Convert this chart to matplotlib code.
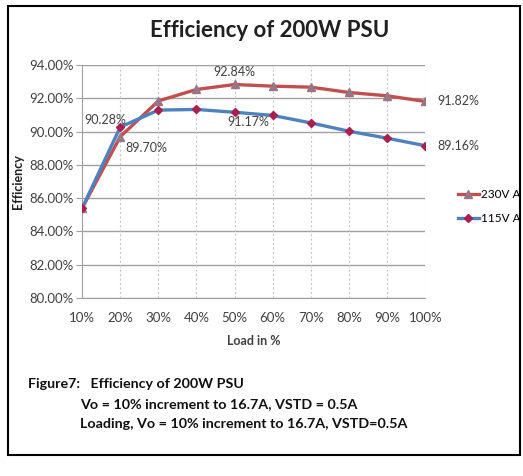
import matplotlib.pyplot as plt
from matplotlib.patches import Rectangle
from matplotlib.lines import Line2D

plt.rcParams['font.family'] = ['Lato', 'DejaVu Sans']

loads = ['10%', '20%', '30%', '40%', '50%', '60%', '70%', '80%', '90%', '100%']
eff_230 = [85.40, 89.70, 91.85, 92.54, 92.84, 92.74, 92.68, 92.36, 92.16, 91.82]
eff_115 = [85.40, 90.28, 91.30, 91.34, 91.17, 90.98, 90.53, 90.03, 89.61, 89.16]
y_ticks = [80, 82, 84, 86, 88, 90, 92, 94]

red = '#C0504D'
blue = '#4F81BD'
tri_col = '#9A7585'
dia_col = '#A8204E'
txt = '#404040'

fig = plt.figure(figsize=(5.23, 4.76), dpi=100)
ax = fig.add_axes([0.157, 0.374, 0.656, 0.489])

x = list(range(len(loads)))
ax.plot(x, eff_230, color=red, lw=2.4, marker='^', ms=6, mfc=tri_col, mec=tri_col, zorder=3)
ax.plot(x, eff_115, color=blue, lw=2.4, marker='D', ms=4.5, mfc=dia_col, mec=dia_col, zorder=3)

ax.set_xlim(0, 9)
ax.set_ylim(80, 94)
ax.set_xticks(x)
ax.set_xticklabels(loads, fontsize=9.5, color=txt)
ax.set_yticks(y_ticks)
ax.set_yticklabels(['%.2f%%' % v for v in y_ticks], fontsize=9.5, color=txt)
ax.grid(axis='y', color='#A0A0A0', lw=1)
for xi in x[1:]:
    ax.axvline(xi, color='#C8C8C8', lw=0.8, ls=(0, (2, 2)), zorder=1)
ax.set_axisbelow(True)
for s in ['top', 'right']:
    ax.spines[s].set_visible(False)
for s in ['left', 'bottom']:
    ax.spines[s].set_color('#A0A0A0')
ax.tick_params(axis='y', length=4, color='#A0A0A0', pad=2)
ax.tick_params(axis='x', length=0, pad=10)

ax.set_xlabel('Load in %', fontsize=9, fontweight='bold', color=txt, labelpad=8)
ax.set_ylabel('Efficiency', fontsize=9, fontweight='bold', color='#202020', labelpad=4)

# data labels
lab = dict(textcoords='offset points', fontsize=9, color=txt)
ax.annotate('%.2f%%' % eff_230[4], (4, eff_230[4]), xytext=(0, 5), ha='center', va='bottom', **lab)
ax.annotate('%.2f%%' % eff_115[4], (4, eff_115[4]), xytext=(10, -3), ha='center', va='top', **lab)
ax.annotate('%.2f%%' % eff_115[1], (1, eff_115[1]), xytext=(-11, 5), ha='center', va='center', **lab)
ax.annotate('%.2f%%' % eff_230[1], (1, eff_230[1]), xytext=(4, -4), ha='left', va='top', **lab)
ax.annotate('%.2f%%' % eff_230[9], (9, eff_230[9]), xytext=(9, 0), ha='left', va='center', **lab)
ax.annotate('%.2f%%' % eff_115[9], (9, eff_115[9]), xytext=(9, 0), ha='left', va='center', **lab)

handles = [Line2D([], [], color=red, lw=2.4, marker='^', ms=6, mfc=tri_col, mec=tri_col),
           Line2D([], [], color=blue, lw=2.4, marker='D', ms=4.5, mfc=dia_col, mec=dia_col)]
fig.legend(handles, ['230V A', '115V A'], loc='center left', bbox_to_anchor=(0.866, 0.566),
           frameon=False, fontsize=8.5, handlelength=1.8, handletextpad=0.15, labelspacing=1.1,
           borderaxespad=0)

fig.text(0.515, 0.935, 'Efficiency of 200W PSU', ha='center', va='center',
         fontsize=16, fontweight='bold', color='#202020')

fig.text(0.054, 0.193, 'Figure7:   Efficiency of 200W PSU', fontsize=10.3, fontweight='bold',
         va='center', color='#101010')
fig.text(0.153, 0.151, 'Vo = 10% increment to 16.7A, VSTD = 0.5A', fontsize=10.3,
         fontweight='bold', va='center', color='#101010')
fig.text(0.153, 0.109, 'Loading, Vo = 10% increment to 16.7A, VSTD=0.5A', fontsize=10.3,
         fontweight='bold', va='center', color='#101010')

fig.patches.append(Rectangle((0.016, 0.044), 0.978, 0.943, transform=fig.transFigure,
                             fill=False, ec='black', lw=1.5))

fig.savefig('out.png', dpi=100)
